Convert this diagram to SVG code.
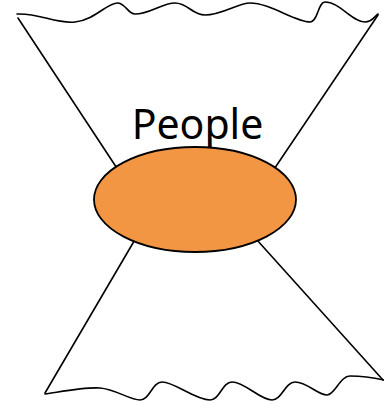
<svg xmlns="http://www.w3.org/2000/svg" width="384" height="408" viewBox="0 0 384 408">
<style>
.ln{fill:none;stroke:#000;stroke-width:1.6;stroke-linecap:round;stroke-linejoin:round}
.lbl{font-family:"Noto Sans","Open Sans",sans-serif;font-size:41px;fill:#000}
</style>
<rect width="384" height="408" fill="#fff"/>
<g id="connectors">
<path class="ln" d="M17,14 C40,13 55,24 75,22 C95,20 108,2 118,3 C126,4 128,14 135,14 C150,14 162,3 175,3 C188,3 192,15 205,15 C222,15 238,3 250,3 C270,3 295,22 310,22 C318,22 318,2 325,2 C340,2 352,22 365,22 C372,22 374,17 378,14"/>
<line class="ln" x1="18" y1="18" x2="130" y2="188"/>
<line class="ln" x1="378" y1="15" x2="260" y2="190"/>
<line class="ln" x1="150" y1="214" x2="45" y2="393"/>
<line class="ln" x1="230" y1="210" x2="383" y2="380"/>
<path class="ln" d="M45,394 C65,391 85,387 100,388 C115,389 130,400 140,400 C150,400 152,382 162,382 C175,382 195,400 210,400 C220,400 222,382 232,382 C245,382 260,400 272,400 C282,400 285,382 295,382 C307,382 318,395 327,395 C335,395 340,376 350,376 C362,376 375,378 384,380"/>
</g>
<g id="people-label">
<text class="lbl" x="197.5" y="139" text-anchor="middle">People</text>
</g>
<g id="people">
<ellipse cx="195" cy="199.5" rx="101" ry="52.5" fill="#F39644" stroke="#000" stroke-width="1.8"/>
</g>
</svg>
